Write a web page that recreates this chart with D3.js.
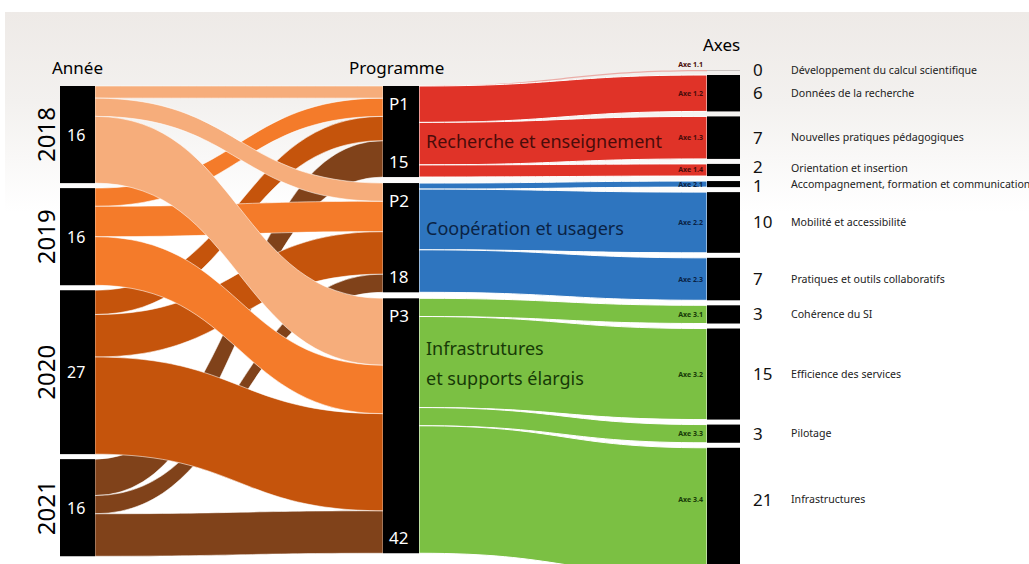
<!DOCTYPE html>
<html>
<head>
<meta charset="utf-8">
<script src="https://cdn.jsdelivr.net/npm/d3@7"></script>
<style>
body{margin:0;background:#fff;}
text{font-family:"Noto Sans",sans-serif;}
</style>
</head>
<body>
<svg id="chart" width="1029" height="564"></svg>
<script>
// data
var years = ["2018","2019","2020","2021"];
var programmes = ["P1","P2","P3"];
var progNames = [["Recherche et enseignement"],["Coopération et usagers"],["Infrastrutures","et supports élargis"]];
// projects per year going to P1, P2, P3
var yearToProg = [
    [2, 3, 11],
    [3, 5, 8],
    [4, 7, 16],
    [6, 3, 7]
];
var axes = ["Axe 1.1","Axe 1.2","Axe 1.3","Axe 1.4","Axe 2.1","Axe 2.2","Axe 2.3","Axe 3.1","Axe 3.2","Axe 3.3","Axe 3.4"];
var axeProg = [0,0,0,0,1,1,1,2,2,2,2];
var axeValues = [0,6,7,2,1,10,7,3,15,3,21];
var axeNames = ["Développement du calcul scientifique","Données de la recherche","Nouvelles pratiques pédagogiques",
    "Orientation et insertion","Accompagnement, formation et communication","Mobilité et accessibilité",
    "Pratiques et outils collaboratifs","Cohérence du SI","Efficience des services","Pilotage","Infrastructures"];

var yearColors = ["#f6ad7b","#f47b2a","#c5540c","#80421a"];
var progColors = ["#e03328","#2e75bf","#7bc043"];
var progText = ["#4a0c0a","#0a2345","#173a07"];

var W = 1029, H = 564;
var svg = d3.select("#chart");

// background
var grad = svg.append("defs").append("linearGradient")
    .attr("id","bg").attr("x1",0).attr("y1",0).attr("x2",0).attr("y2",1);
grad.append("stop").attr("offset","0%").attr("stop-color","#eeeae7");
grad.append("stop").attr("offset","45%").attr("stop-color","#f3f1ef");
grad.append("stop").attr("offset","100%").attr("stop-color","#ffffff");
svg.append("rect").attr("x",5).attr("y",12).attr("width",W-5).attr("height",200).attr("fill","url(#bg)");

// scale: projects -> pixels
var total = d3.sum(axeValues);
var y = d3.scaleLinear().domain([0,total]).range([0,total*6.07]);

var colX = d3.scaleOrdinal().domain(["annee","prog","axe"]).range([60,383,707]);
var colW = {annee:35, prog:36, axe:33};

function makeNodes(names, values, col, top, pad){
    var cur = top;
    return names.map(function(n,i){
        var h = y(values[i]);
        var node = {name:n, i:i, value:values[i], col:col, x0:colX(col), x1:colX(col)+colW[col], y0:cur, y1:cur+h, out:[], inc:[]};
        cur += h + pad;
        return node;
    });
}

var yearNodes = makeNodes(years, yearToProg.map(function(r){return d3.sum(r);}), "annee", 86, 5);
var progNodes = makeNodes(programmes, programmes.map(function(p,j){return d3.sum(yearToProg,function(r){return r[j];});}), "prog", 86, 6);
var axeNodes = makeNodes(axes, axeValues, "axe", 70, 5);

var links1 = [], links2 = [];
yearToProg.forEach(function(r,i){
    r.forEach(function(v,j){
        var l = {source:yearNodes[i], target:progNodes[j], value:v, color:yearColors[i], order:i};
        links1.push(l);
        yearNodes[i].out.push(l); progNodes[j].inc.push(l);
    });
});
axeValues.forEach(function(v,a){
    var l = {source:progNodes[axeProg[a]], target:axeNodes[a], value:v, color:progColors[axeProg[a]], order:a};
    links2.push(l);
    progNodes[axeProg[a]].out.push(l); axeNodes[a].inc.push(l);
});

// stack links on nodes
yearNodes.concat(progNodes, axeNodes).forEach(function(n){
    var s = n.y0;
    n.out.forEach(function(l){ l.sy0 = s; s += y(l.value); l.sy1 = s; });
    var t = n.y0;
    n.inc.forEach(function(l){ l.ty0 = t; t += y(l.value); l.ty1 = t; });
});

function ribbon(l){
    var x0 = l.source.x1, x1 = l.target.x0, xm = (x0+x1)/2;
    var sy1 = Math.max(l.sy1, l.sy0+1.2), ty1 = Math.max(l.ty1, l.ty0+1.2);
    var p = d3.path();
    p.moveTo(x0, l.sy0);
    p.bezierCurveTo(xm, l.sy0, xm, l.ty0, x1, l.ty0);
    p.lineTo(x1, ty1);
    p.bezierCurveTo(xm, ty1, xm, sy1, x0, sy1);
    p.closePath();
    return p.toString();
}

// year -> programme, 2021 at the back, 2018 on top
svg.append("g").selectAll("path")
    .data(links1.slice().sort(function(a,b){return b.order-a.order;}))
    .enter().append("path")
    .attr("d",ribbon)
    .attr("fill",function(d){return d.color;})
    .attr("stroke","#fff").attr("stroke-width",0.8).attr("stroke-opacity",0.7);

svg.append("g").selectAll("path")
    .data(links2).enter().append("path")
    .attr("d",ribbon)
    .attr("fill",function(d){return d.color;})
    .attr("fill-opacity",function(d){return d.value ? 1 : 0.35;})
    .attr("stroke","#fff").attr("stroke-width",function(d){return d.value ? 1 : 0;});

// nodes
svg.append("g").selectAll("rect")
    .data(yearNodes.concat(progNodes, axeNodes)).enter().append("rect")
    .attr("x",function(d){return d.x0;})
    .attr("y",function(d){return d.y0;})
    .attr("width",function(d){return d.x1-d.x0;})
    .attr("height",function(d){return Math.max(1, d.y1-d.y0);})
    .attr("fill",function(d){return d.value ? "#000" : "#c8c2c0";});

// headers
svg.append("text").attr("x",52).attr("y",74).attr("font-size",17).text("Année");
svg.append("text").attr("x",349).attr("y",74).attr("font-size",17).text("Programme");
svg.append("text").attr("x",703).attr("y",51).attr("font-size",17).text("Axes");

// year labels
yearNodes.forEach(function(n){
    var cy = (n.y0+n.y1)/2;
    svg.append("text").attr("transform","translate(55,"+cy+") rotate(-90)")
        .attr("text-anchor","middle").attr("font-size",24).text(n.name);
    svg.append("text").attr("x",n.x0+7).attr("y",cy+6).attr("fill","#fff").attr("font-size",16).text(n.value);
});

// programme labels
progNodes.forEach(function(n,j){
    svg.append("text").attr("x",n.x0+6).attr("y",n.y0+24).attr("fill","#fff").attr("font-size",17).text(n.name);
    svg.append("text").attr("x",n.x0+6).attr("y",n.y1-9).attr("fill","#fff").attr("font-size",17).text(n.value);
    progNames[j].forEach(function(t,k){
        svg.append("text").attr("x",n.x1+7).attr("y",[148,235,355][j]+k*30)
            .attr("fill",progText[j]).attr("font-size",18).text(t);
    });
});

// axe labels (centre taken on the visible part of the node)
axeNodes.forEach(function(n,a){
    var cy = (n.y0+Math.min(n.y1, H-12))/2;
    var nudge = a === 3 ? -2.5 : (a === 4 ? 1.5 : 0);
    svg.append("text").attr("x",n.x0-4).attr("y",n.value ? cy+2.5 : cy-3)
        .attr("text-anchor","end").attr("font-size",7).attr("font-weight","bold")
        .attr("font-family","Liberation Sans, sans-serif")
        .attr("fill",progText[axeProg[a]]).text(n.name);
    svg.append("text").attr("x",753).attr("y",cy+6+nudge).attr("font-size",17).attr("fill","#111").text(n.value);
    svg.append("text").attr("x",791).attr("y",cy+3.5+nudge/2).attr("font-size",10.6).attr("fill","#222").text(axeNames[a]);
});
</script>
</body>
</html>
